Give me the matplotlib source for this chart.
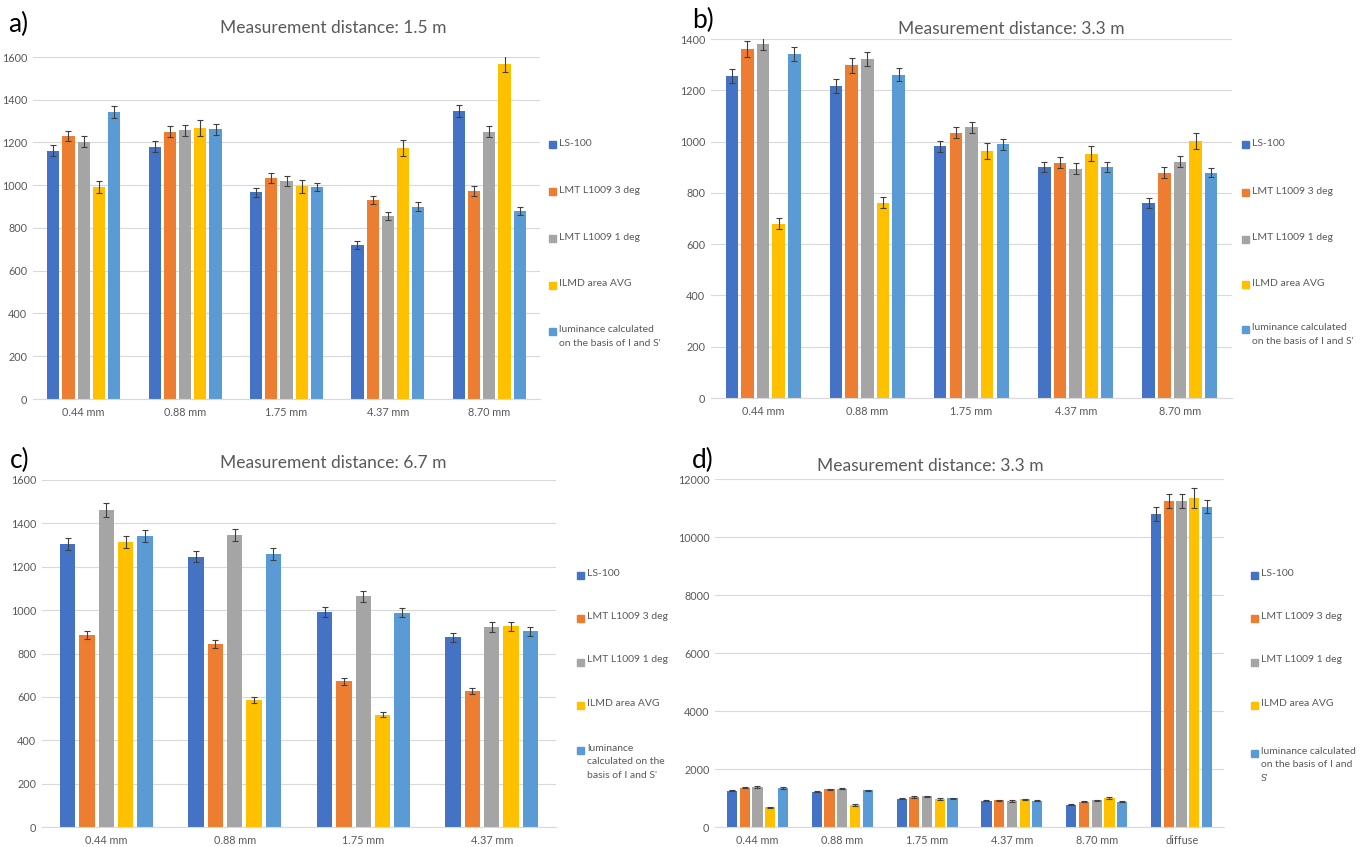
import numpy as np
import matplotlib
matplotlib.use("Agg")
import matplotlib.pyplot as plt
from matplotlib.patches import Rectangle

plt.rcParams['font.family'] = ['Lato', 'DejaVu Sans']

series = ['LS-100', 'LMT L1009 3 deg', 'LMT L1009 1 deg', 'ILMD area AVG',
          'luminance calculated on the basis of I and S\'']
colors = ['#4472C4', '#ED7D31', '#A5A5A5', '#FFC000', '#5B9BD5']

cats5 = ['0.44 mm', '0.88 mm', '1.75 mm', '4.37 mm', '8.70 mm']
cats4 = ['0.44 mm', '0.88 mm', '1.75 mm', '4.37 mm']
cats6 = ['0.44 mm', '0.88 mm', '1.75 mm', '4.37 mm', '8.70 mm', 'diffuse']

# a) 1.5 m
a_ls = [1162, 1181, 967, 721, 1346]
a_lmt3 = [1232, 1251, 1033, 930, 973]
a_lmt1 = [1204, 1257, 1020, 856, 1251]
a_ilmd = [991, 1267, 995, 1175, 1568]
a_lum = [1342, 1262, 992, 900, 880]
a_err_ls = [24, 24, 21, 18, 28]
a_err_lmt3 = [23, 24, 23, 20, 22]
a_err_lmt1 = [25, 26, 22, 20, 24]
a_err_ilmd = [29, 38, 29, 37, 40]
a_err_lum = [27, 26, 20, 21, 18]

# b) 3.3 m
b_ls = [1256, 1217, 982, 900, 760]
b_lmt3 = [1361, 1297, 1035, 918, 879]
b_lmt1 = [1382, 1322, 1056, 894, 921]
b_ilmd = [679, 762, 964, 952, 1003]
b_lum = [1340, 1260, 990, 900, 879]
b_err_ls = [27, 27, 21, 19, 18]
b_err_lmt3 = [30, 30, 22, 21, 20]
b_err_lmt1 = [26, 28, 21, 22, 22]
b_err_ilmd = [21, 23, 31, 29, 31]
b_err_lum = [27, 25, 21, 20, 19]

# c) 6.7 m
c_ls = [1305, 1247, 991, 874]
c_lmt3 = [885, 844, 672, 626]
c_lmt1 = [1463, 1347, 1063, 922]
c_ilmd = [1316, 586, 518, 926]
c_lum = [1340, 1259, 989, 902]
c_err_ls = [27, 24, 22, 21]
c_err_lmt3 = [17, 19, 15, 14]
c_err_lmt1 = [32, 28, 24, 21]
c_err_ilmd = [28, 13, 11, 21]
c_err_lum = [28, 27, 21, 21]

# d) 3.3 m incl. diffuse
d_ls = b_ls + [10794]
d_lmt3 = b_lmt3 + [11242]
d_lmt1 = b_lmt1 + [11242]
d_ilmd = b_ilmd + [11345]
d_lum = b_lum + [11047]
d_err_ls = b_err_ls + [230]
d_err_lmt3 = b_err_lmt3 + [235]
d_err_lmt1 = b_err_lmt1 + [235]
d_err_ilmd = b_err_ilmd + [356]
d_err_lum = b_err_lum + [224]

W, H = 1368, 847
fig = plt.figure(figsize=(W / 100, H / 100), dpi=100)
txt = '#595959'


def px_axes(left, right, bottom, top):
    return fig.add_axes([left / W, 1 - bottom / H, (right - left) / W, (bottom - top) / H])


def legend(x, ys, lum_label):
    # Excel-style legend: small square aligned with the first text line
    labels = series[:4] + [lum_label]
    for lab, c, y in zip(labels, colors, ys):
        fig.add_artist(Rectangle((x / W, 1 - (y + 3.5) / H), 7 / W, 7 / H,
                                 transform=fig.transFigure, color=c))
        fig.text((x + 10) / W, 1 - (y - 6.5) / H, lab, ha='left', va='top',
                 fontsize=7.5, color=txt, linespacing=1.7)


def panel(box, cats, vals, errs, ymax, ystep, title, tpos, letter, lpos):
    ax = px_axes(*box)
    x = np.arange(len(cats))
    bw, step = 0.12, 0.15
    for i, (v, e) in enumerate(zip(vals, errs)):
        ax.bar(x + (i - 2) * step, v, bw, color=colors[i], zorder=2,
               yerr=e, error_kw=dict(ecolor='#404040', elinewidth=0.8,
                                     capsize=2, capthick=0.8))
    ax.set_xlim(-0.5, len(cats) - 0.5)
    ax.set_ylim(0, ymax)
    ax.set_yticks(np.arange(0, ymax + 1, ystep))
    ax.set_xticks(x)
    ax.set_xticklabels(cats)
    ax.yaxis.grid(True, color='#D9D9D9', lw=0.8, zorder=0)
    ax.set_axisbelow(True)
    for s in ['top', 'right', 'left']:
        ax.spines[s].set_visible(False)
    ax.spines['bottom'].set_color('#D9D9D9')
    ax.tick_params(length=0, labelsize=7.8, colors=txt)
    ax.tick_params(axis='x', pad=6)
    ax.tick_params(axis='y', pad=4)
    fig.text(tpos[0] / W, 1 - tpos[1] / H, title, ha='center', va='center',
             fontsize=12.5, color=txt)
    fig.text(lpos[0] / W, 1 - lpos[1] / H, letter, ha='left', va='center',
             fontsize=19, color='black')
    return ax


panel((33, 540, 399, 57), cats5,
      [a_ls, a_lmt3, a_lmt1, a_ilmd, a_lum],
      [a_err_ls, a_err_lmt3, a_err_lmt1, a_err_ilmd, a_err_lum],
      1600, 200, 'Measurement distance: 1.5 m', (333, 28), 'a)', (8, 24))
legend(549, [145, 192, 239, 286, 332], 'luminance calculated\non the basis of I and S\'')

panel((711, 1232, 398, 39), cats5,
      [b_ls, b_lmt3, b_lmt1, b_ilmd, b_lum],
      [b_err_ls, b_err_lmt3, b_err_lmt1, b_err_ilmd, b_err_lum],
      1400, 200, 'Measurement distance: 3.3 m', (1011, 29), 'b)', (692, 20))
legend(1242, [145, 193, 240, 285, 330], 'luminance calculated\non the basis of I and S\'')

panel((42, 556, 827, 480), cats4,
      [c_ls, c_lmt3, c_lmt1, c_ilmd, c_lum],
      [c_err_ls, c_err_lmt3, c_err_lmt1, c_err_ilmd, c_err_lum],
      1600, 200, 'Measurement distance: 6.7 m', (333, 463), 'c)', (10, 460))
legend(577, [575, 618, 662, 705, 750], 'luminance\ncalculated on the\nbasis of I and S\'')

panel((715, 1224, 827, 479), cats6,
      [d_ls, d_lmt3, d_lmt1, d_ilmd, d_lum],
      [d_err_ls, d_err_lmt3, d_err_lmt1, d_err_ilmd, d_err_lum],
      12000, 2000, 'Measurement distance: 3.3 m', (930, 466), 'd)', (692, 460))
legend(1251, [575, 618, 662, 705, 753], 'luminance calculated\non the basis of I and\nS\'')

fig.savefig('out.png', dpi=100, facecolor='white')
